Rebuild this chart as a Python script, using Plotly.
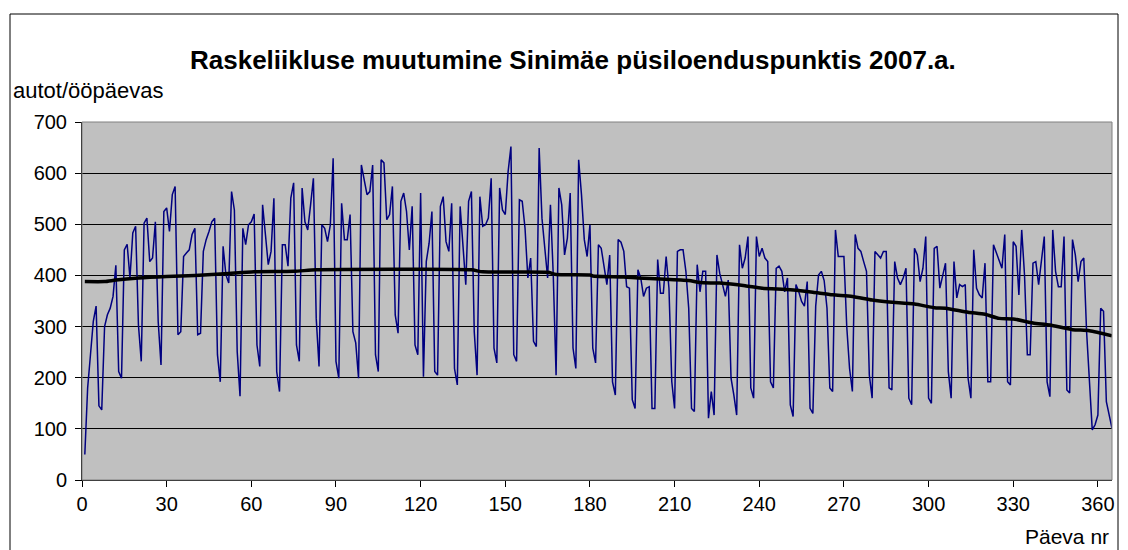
import plotly.graph_objects as go

# Daily heavy traffic, days 1..365 (rows = weeks Mon..Sun)
values = [
    50, 180, 245, 310, 340, 145, 137,
    300, 323, 336, 359, 420, 212, 199,
    450, 461, 395, 483, 496, 303, 232,
    502, 512, 427, 434, 505, 310, 225,
    525, 532, 486, 558, 574, 284, 290,
    437, 444, 450, 480, 492, 284, 287,
    447, 470, 486, 505, 512, 245, 192,
    457, 401, 385, 564, 528, 251, 164,
    492, 460, 499, 505, 520, 264, 222,
    538, 480, 421, 447, 551, 212, 173,
    460, 460, 418, 551, 581, 264, 232,
    571, 505, 489, 538, 590, 316, 222,
    499, 492, 466, 499, 629, 232, 199,
    541, 470, 470, 519, 290, 268, 199,
    616, 584, 558, 564, 616, 245, 212,
    626, 620, 509, 519, 574, 323, 287,
    545, 561, 525, 450, 535, 264, 245,
    561, 202, 427, 463, 525, 212, 205,
    535, 554, 466, 447, 541, 218, 186,
    535, 460, 382, 545, 564, 290, 205,
    554, 496, 499, 512, 590, 258, 229,
    571, 528, 519, 603, 652, 245, 232,
    548, 545, 492, 395, 434, 271, 261,
    649, 512, 447, 395, 538, 401, 205,
    571, 538, 440, 473, 561, 258, 218,
    626, 558, 470, 437, 499, 258, 229,
    460, 453, 418, 382, 440, 192, 166,
    470, 465, 447, 378, 375, 157, 140,
    411, 395, 359, 375, 378, 140, 140,
    431, 365, 365, 437, 375, 192, 140,
    447, 450, 450, 408, 336, 140, 134,
    421, 368, 408, 408, 121, 173, 127,
    440, 404, 382, 359, 391, 199, 166,
    127, 460, 414, 434, 476, 180, 160,
    476, 437, 453, 434, 427, 192, 180,
    414, 418, 408, 368, 395, 147, 124,
    382, 368, 349, 340, 388, 140, 130,
    340, 401, 408, 390, 336, 180, 173,
    489, 437, 437, 437, 300, 218, 173,
    480, 453, 447, 427, 408, 205, 160,
    447, 440, 434, 447, 447, 180, 176,
    427, 395, 382, 395, 414, 160, 147,
    453, 440, 388, 414, 476, 160, 150,
    453, 457, 375, 401, 424, 212, 160,
    427, 356, 382, 378, 382, 199, 160,
    450, 375, 362, 356, 424, 192, 192,
    460, 444, 427, 414, 480, 192, 186,
    466, 457, 362, 489, 401, 245, 245,
    424, 427, 382, 434, 476, 192, 163,
    489, 408, 378, 378, 476, 176, 170,
    470, 440, 388, 427, 434, 290, 192,
    98, 108, 127, 336, 330, 153, 127,
    101,
]
days = list(range(1, len(values) + 1))

# Trend (moving average) line
trend_days = [1, 8, 12, 20, 30, 40, 52, 61, 75, 83, 110, 138, 142, 165, 168, 180,
              181, 192, 197, 205, 215, 219, 226, 235, 241, 251, 259, 266, 273, 280,
              286, 295, 302, 306, 314, 320, 325, 330, 337, 343, 351, 357, 365]
trend_vals = [388, 388, 391, 395, 398, 400, 404, 407, 408, 411, 412, 411, 407, 406, 402, 401,
              399, 397, 395, 393, 390, 386, 385, 380, 375, 372, 367, 362, 359, 352,
              348, 344, 337, 336, 328, 324, 316, 315, 307, 303, 294, 292, 282]

x_ticks = list(range(0, 361, 30))
y_ticks = list(range(0, 701, 100))

title_text = "Raskeliikluse muutumine Sinimäe püsiloenduspunktis 2007.a."
y_label = "autot/ööpäevas"
x_label = "Päeva nr"

FONT = "Arial, Liberation Sans, sans-serif"

fig = go.Figure()
fig.add_trace(go.Scatter(x=days, y=values, mode="lines",
                         line=dict(color="#000080", width=1.5), showlegend=False))
fig.add_trace(go.Scatter(x=trend_days, y=trend_vals, mode="lines",
                         line=dict(color="#000000", width=3.5, shape="spline", smoothing=0.6),
                         showlegend=False))

L, R, T, B = 82, 16, 122, 70
W, H = 1128, 550
pw, ph = W - L - R, H - T - B

def px(xp):
    return (xp - L) / pw

def py(yp):
    return (H - B - yp) / ph

fig.update_layout(
    width=W, height=H,
    margin=dict(l=L, r=R, t=T, b=B),
    paper_bgcolor="white",
    plot_bgcolor="#C0C0C0",
    font=dict(family=FONT, size=20, color="black"),
    xaxis=dict(range=[0, 365], tickvals=x_ticks, showgrid=False, zeroline=False,
               showline=True, linecolor="black", linewidth=1, mirror=False,
               ticks="outside", ticklen=6, tickcolor="black",
               tickfont=dict(family=FONT, size=20, color="black")),
    yaxis=dict(range=[0, 700], tickvals=y_ticks, showgrid=True, gridcolor="black",
               gridwidth=1, zeroline=False, showline=True, linecolor="black",
               linewidth=1, ticks="outside", ticklen=6, tickcolor="black",
               ticklabelstandoff=4,
               tickfont=dict(family=FONT, size=20, color="black")),
    shapes=[
        dict(type="rect", xref="paper", yref="paper", x0=0, x1=1, y0=0, y1=1,
             line=dict(color="#808080", width=1), fillcolor="rgba(0,0,0,0)", layer="above"),
        dict(type="rect", xref="paper", yref="paper", x0=px(10), x1=px(1118),
             y0=py(600), y1=py(14), line=dict(color="black", width=1),
             fillcolor="rgba(0,0,0,0)"),
    ],
    annotations=[
        dict(text="<b>" + title_text + "</b>", xref="paper", yref="paper",
             x=px(573), y=py(60), xanchor="center", yanchor="middle", showarrow=False,
             font=dict(family=FONT, size=26, color="black")),
        dict(text=y_label, xref="paper", yref="paper", x=px(11), y=py(91),
             xanchor="left", yanchor="middle", showarrow=False,
             font=dict(family=FONT, size=22, color="black")),
        dict(text=x_label, xref="paper", yref="paper", x=px(1111), y=py(536),
             xanchor="right", yanchor="middle", showarrow=False,
             font=dict(family=FONT, size=21, color="black")),
    ],
)

fig.write_html("out.html", config={"displayModeBar": False},
               post_script="document.body.style.margin='0';document.body.style.padding='0';")
